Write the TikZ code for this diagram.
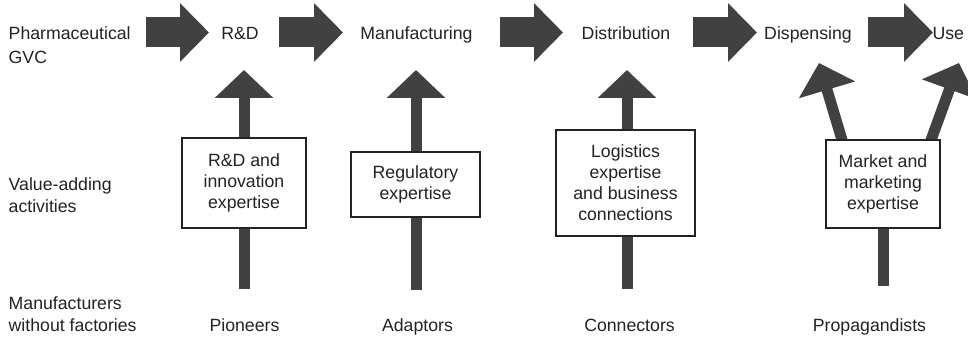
\documentclass[tikz,border=0pt]{standalone}
\usepackage{fontspec}
\setmainfont{Liberation Sans}
\usetikzlibrary{arrows.meta}
\definecolor{arr}{HTML}{414141}
\definecolor{txt}{HTML}{232323}
\begin{document}
\begin{tikzpicture}[x=1pt,y=-1pt,
  lbl/.style={anchor=base west, inner sep=0pt, text=txt, align=left},
  top/.style={anchor=base, inner sep=0pt, text=txt, font=\fontsize{17.7}{21}\selectfont},
  harrow/.style={draw=arr, line width=30pt, -{Triangle[width=57pt,length=29pt]}},
  varrow/.style={draw=arr, line width=11pt, -{Triangle[width=57pt,length=28pt]}},
  stem/.style={draw=arr, line width=11pt},
  box/.style={draw=txt, line width=1.3pt, fill=white, text=txt, align=center, inner sep=0pt,
    font=\fontsize{17.7}{21}\selectfont},
]
\clip (0,0) rectangle (968,339);
\fill[white] (0,0) rectangle (968,339);

% left labels (base anchor = last line)
\node[lbl, font=\fontsize{17.7}{24}\selectfont] (gvc) at (8.5,63.5) {Pharmaceutical\\GVC};
\node[lbl, font=\fontsize{17.7}{21.6}\selectfont] (vaa) at (8.5,212.3) {Value-adding\\activities};
\node[lbl, font=\fontsize{17.7}{22.4}\selectfont] (mwf) at (8.5,331.7) {Manufacturers\\without factories};

% top row
\node[top] (rd)   at (240,39.5) {R\&D};
\node[top] (man)  at (416.5,39.5) {Manufacturing};
\node[top] (dist) at (626,39.5) {Distribution};
\node[top] (disp) at (808,39.5) {Dispensing};
\node[top, anchor=base west] (use) at (932.3,39.5) {Use};

% horizontal block arrows
\coordinate (h1a) at (146,32.5); \coordinate (h1b) at (209,32.5);
\coordinate (h2a) at (279,32.5); \coordinate (h2b) at (343,32.5);
\coordinate (h3a) at (500,32.5); \coordinate (h3b) at (563,32.5);
\coordinate (h4a) at (693,32.5); \coordinate (h4b) at (757,32.5);
\coordinate (h5a) at (868,32.5); \coordinate (h5b) at (933,32.5);
\draw[harrow] (h1a) -- (h1b);
\draw[harrow] (h2a) -- (h2b);
\draw[harrow] (h3a) -- (h3b);
\draw[harrow] (h4a) -- (h4b);
\draw[harrow] (h5a) -- (h5b);

% vertical arrows
\coordinate (v1a) at (244,289); \coordinate (v1b) at (244,70);
\coordinate (v2a) at (416,290); \coordinate (v2b) at (416,70);
\coordinate (v3a) at (627,289); \coordinate (v3b) at (627,70);
\coordinate (v4a) at (883,286); \coordinate (v4b) at (883,200);
\coordinate (d1a) at (845,150); \coordinate (d1b) at (819,63);
\coordinate (d2a) at (927.4,150); \coordinate (d2b) at (959,63);
\draw[varrow] (v1a) -- (v1b);
\draw[varrow] (v2a) -- (v2b);
\draw[varrow] (v3a) -- (v3b);
\draw[stem] (v4a) -- (v4b);
\draw[varrow] (d1a) -- (d1b);
\draw[varrow] (d2a) -- (d2b);

% boxes
\node[box, minimum width=124pt, minimum height=90pt] (b1) at (244,183) {R\&D and\\innovation\\expertise};
\node[box, minimum width=129pt, minimum height=65pt] (b2) at (415.5,184.5) {Regulatory\\expertise};
\node[box, minimum width=139pt, minimum height=106pt] (b3) at (625.5,183) {Logistics\\expertise\\and business\\connections};
\node[box, minimum width=114pt, minimum height=88pt] (b4) at (883,184) {Market and\\marketing\\expertise};

% bottom labels
\node[top] (pio) at (244.5,331.7) {Pioneers};
\node[top] (ada) at (417.5,331.7) {Adaptors};
\node[top] (con) at (629.5,331.7) {Connectors};
\node[top] (pro) at (869.5,331.7) {Propagandists};
\end{tikzpicture}
\end{document}
